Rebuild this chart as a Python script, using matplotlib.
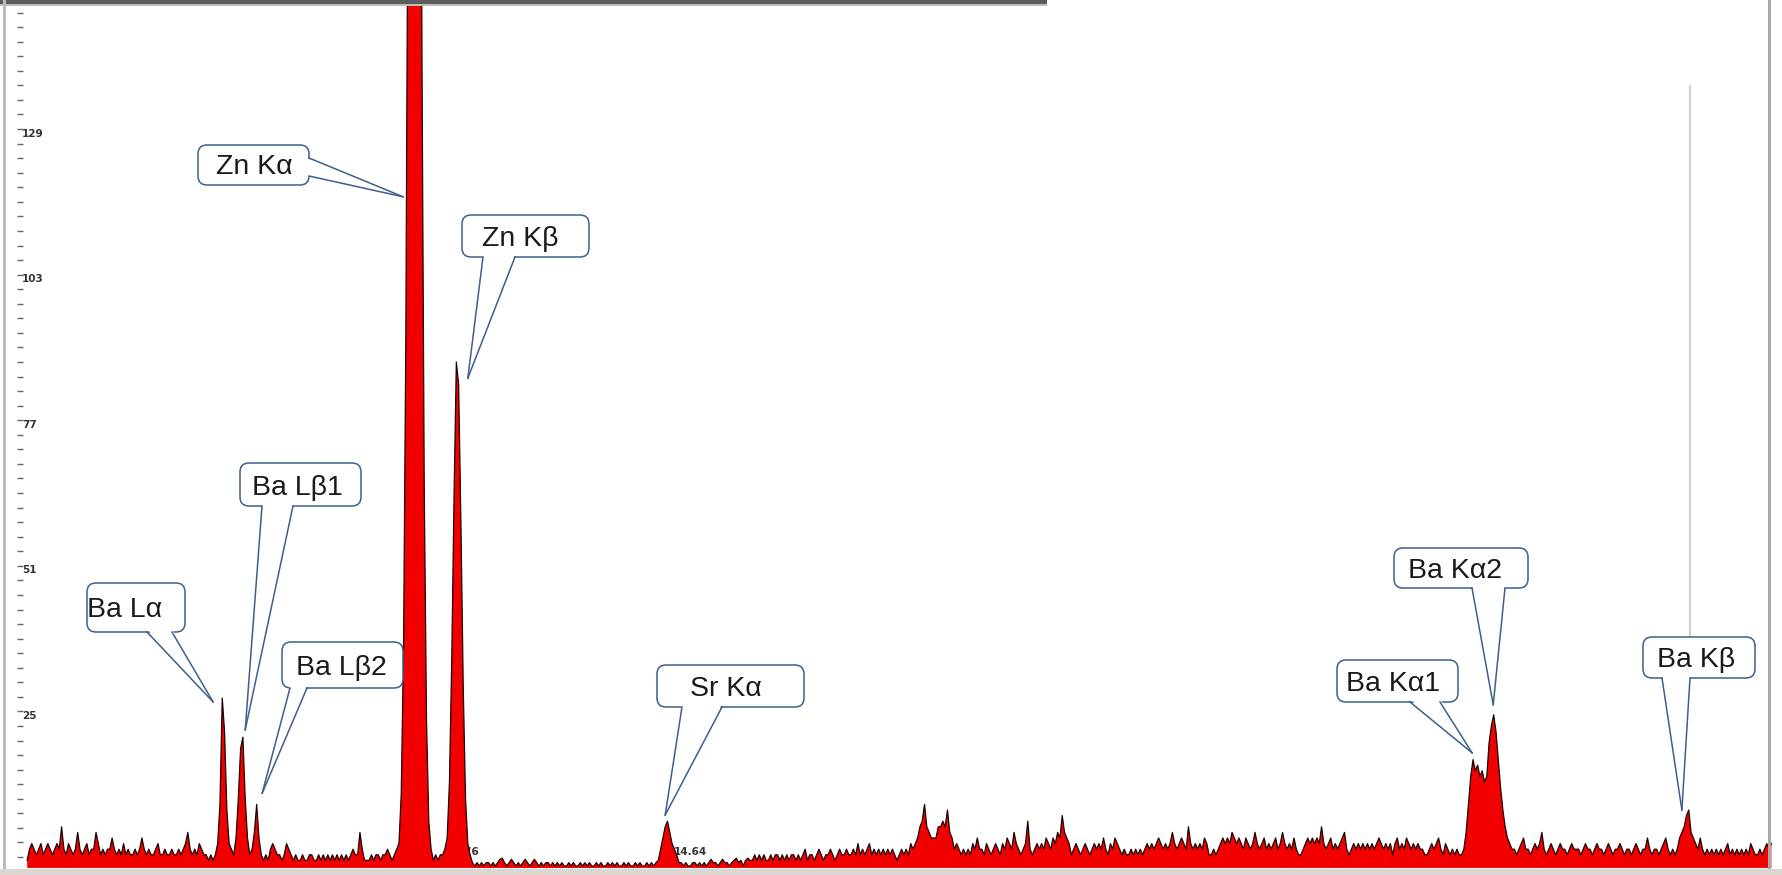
import numpy as np
import matplotlib
matplotlib.use("Agg")
import matplotlib.pyplot as plt
from matplotlib.patches import FancyBboxPatch, Polygon, Rectangle
from matplotlib.lines import Line2D

# ---------------- data ----------------
start_energy_kev = 0.20
channel_kev = 0.05

# counts per channel, one row per keV (first row starts at 0.20 keV)
counts_rows = [
    [1, 3, 4, 3, 2, 3, 4, 2, 3, 4, 3, 2, 3, 4, 3, 7],
    [3, 2, 4, 3, 2, 3, 6, 3, 2, 3, 4, 2, 3, 3, 6, 4, 2, 3, 2, 3],
    [3, 5, 3, 2, 3, 2, 4, 2, 3, 2, 2, 3, 2, 3, 5, 3, 2, 3, 2, 2],
    [3, 4, 2, 2, 3, 2, 2, 3, 2, 2, 3, 2, 3, 4, 6, 3, 2, 3, 2, 4],
    [3, 2, 2, 1, 2, 1, 2, 4, 11, 30, 24, 10, 4, 3, 2, 5, 12, 21, 23, 12],
    [5, 2, 3, 6, 11, 5, 2, 1, 2, 1, 3, 4, 3, 2, 2, 1, 2, 4, 3, 2],
    [1, 2, 1, 1, 2, 1, 1, 2, 2, 1, 1, 2, 1, 2, 1, 2, 1, 2, 1, 2],
    [1, 2, 1, 2, 1, 2, 3, 2, 2, 6, 3, 1, 1, 1, 2, 1, 2, 2, 1, 2],
    [2, 3, 2, 1, 2, 3, 4, 13, 39, 95, 187, 300, 393, 418, 362, 255, 146, 68, 26, 8],
    [3, 1, 2, 1, 2, 2, 3, 5, 15, 37, 66, 90, 86, 61, 32, 12, 4, 2, 0.6, 0],
    [0.6, 0, 0.6, 0, 0.6, 0.6, 0, 0.6, 0, 0.6, 1.2, 1.4, 0.6, 0, 0.6, 1.2, 0.6, 0, 0.6, 0],
    [0.6, 1.2, 0.6, 0, 0.6, 1.2, 0.6, 0, 0.6, 0, 0.6, 0.6, 0, 0.6, 0, 0.6, 0, 0.6, 0, 0],
    [0.6, 0, 0.6, 0, 0, 0.6, 0, 0.6, 0, 0.6, 0, 0, 0.6, 0, 0.6, 0, 0, 0.6, 0, 0.6],
    [0, 0.6, 0, 0, 0.6, 0, 0.6, 0, 0, 0.6, 0, 0.6, 0, 0, 0.6, 0, 0.6, 0, 0.6, 1],
    [3, 5, 7, 8, 6, 4, 3, 2, 0.6, 0.6, 0, 0.6, 0, 0, 0.6, 0.6, 0, 0.6, 0, 0.6],
    [0, 0.6, 1.2, 0.6, 0.6, 0, 0.6, 1.2, 0.6, 0.6, 0, 0.6, 1, 1.4, 0.6, 1, 0, 1, 1.4, 1],
    [1, 2, 1, 2, 1, 2, 1, 1, 2, 1, 2, 2, 1, 2, 1, 2, 1, 2, 2, 1],
    [2, 1, 2, 3, 1, 2, 2, 1, 2, 3, 2, 1, 2, 2, 3, 2, 1, 2, 3, 2],
    [2, 3, 2, 2, 3, 2, 4, 2, 3, 2, 3, 4, 2, 3, 2, 3, 2, 3, 2, 3],
    [2, 3, 2, 1, 2, 3, 2, 3, 2, 4, 3, 4, 5, 7, 8, 11, 7, 6, 5, 5],
    [5, 7, 7, 8, 7, 10, 6, 5, 3, 4, 3, 2, 3, 2, 3, 2, 4, 3, 5, 3],
    [3, 2, 4, 3, 2, 3, 4, 3, 2, 4, 3, 5, 4, 3, 6, 4, 3, 2, 3, 4],
    [8, 3, 2, 3, 4, 3, 4, 3, 5, 4, 3, 5, 4, 6, 5, 9, 6, 5, 4, 2],
    [3, 4, 3, 2, 3, 4, 3, 2, 3, 4, 3, 4, 3, 5, 3, 2, 4, 3, 5, 4],
    [3, 2, 3, 2, 2, 3, 2, 3, 2, 3, 2, 3, 4, 3, 4, 3, 4, 5, 4, 3],
    [4, 3, 4, 6, 4, 3, 4, 5, 4, 3, 7, 4, 3, 4, 3, 4, 3, 5, 4, 2],
    [2, 3, 2, 3, 4, 5, 4, 5, 4, 6, 5, 4, 5, 4, 3, 5, 4, 3, 4, 6],
    [4, 3, 4, 5, 3, 4, 3, 4, 5, 3, 4, 6, 4, 3, 4, 3, 5, 3, 2, 2],
    [3, 4, 5, 4, 5, 4, 5, 4, 7, 4, 3, 4, 5, 3, 4, 3, 4, 5, 6, 3],
    [2, 3, 4, 3, 4, 3, 4, 3, 4, 3, 4, 3, 4, 5, 4, 3, 4, 3, 4, 2],
    [4, 5, 3, 4, 3, 5, 4, 3, 4, 3, 4, 3, 3, 2, 2, 3, 4, 3, 4, 5],
    [3, 2, 4, 3, 2, 3, 2, 3, 2, 2, 3, 6, 11, 16, 19, 17, 18, 16, 17, 15],
    [16, 22, 25, 27, 24, 19, 14, 10, 7, 5, 4, 3, 3, 2, 3, 4, 5, 3, 3, 2],
    [3, 4, 3, 4, 6, 3, 2, 3, 4, 3, 2, 3, 4, 3, 3, 2, 3, 4, 3, 3],
    [3, 2, 3, 4, 3, 3, 2, 3, 4, 3, 3, 2, 3, 4, 3, 2, 3, 3, 4, 3],
    [2, 3, 3, 2, 3, 4, 3, 2, 3, 3, 5, 3, 2, 3, 3, 2, 3, 4, 5, 3],
    [2, 3, 2, 3, 5, 6, 7, 9, 10, 6, 5, 4, 3, 5, 3, 2, 3, 2, 3, 2],
    [3, 2, 3, 2, 3, 4, 2, 3, 2, 3, 2, 3, 2, 3, 2, 4, 3, 2, 2, 3],
    [2, 3, 4, 3, 4],
]

# peak annotations: label, and the point (keV, counts) the callout points at
peak_labels = ["Ba Lα", "Ba Lβ1", "Ba Lβ2", "Zn Kα", "Zn Kβ", "Sr Kα",
               "Ba Kα1", "Ba Kα2", "Ba Kβ"]
peak_tip_kev = [4.25, 4.95, 5.32, 8.39, 9.80, 14.10, 31.68, 32.14, 36.25]
peak_tip_counts = [29.3, 24.3, 13.0, 119.5, 87.1, 9.1, 20.2, 28.8, 10.0]

ytick_major = [25, 51, 77, 103, 129]
ytick_minor_step = 2.6
xtick_labels_visible = [9.76, 14.64]

# ---------------- layout (pixels of the 1782x875 image) ----------------
W, H, DPI = 1782, 875, 100
# callout boxes: (x0, y0, x1, y1), text centre, wedge base points
box_layout = {
    "Ba Lα":  ((87, 583, 185, 632), (125, 607), ((147, 632), (172, 632)), "bottom"),
    "Ba Lβ1": ((240, 463, 361, 506), (297, 485), ((262, 506), (293, 506)), "bottom"),
    "Ba Lβ2": ((282, 642, 403, 688), (341, 665), ((290, 688), (307, 688)), "bottom"),
    "Zn Kα":  ((198, 145, 309, 185), (254, 164), ((309, 158), (309, 176)), "right"),
    "Zn Kβ":  ((462, 215, 589, 257), (520, 236), ((483, 257), (515, 257)), "bottom"),
    "Sr Kα":  ((657, 665, 804, 707), (726, 686), ((682, 707), (722, 707)), "bottom"),
    "Ba Kα1": ((1337, 660, 1458, 702), (1393, 681), ((1410, 702), (1440, 702)), "bottom"),
    "Ba Kα2": ((1394, 548, 1528, 588), (1455, 568), ((1472, 588), (1505, 588)), "bottom"),
    "Ba Kβ":  ((1643, 637, 1755, 678), (1696, 657), ((1662, 678), (1690, 678)), "bottom"),
}

counts = np.concatenate([np.array(r, dtype=float) for r in counts_rows])
energy = start_energy_kev + channel_kev * np.arange(len(counts))

fig = plt.figure(figsize=(W / DPI, H / DPI), dpi=DPI, facecolor="white")

# data axes covering the whole image
ax = fig.add_axes([0, 0, 1, 1])
ax.set_facecolor("white")
px_per_kev = 45.9
x0_px = 18.0
ax.set_xlim(-x0_px / px_per_kev, (W - x0_px) / px_per_kev)
px_per_count = 5.6
y0_px = 866.0
ax.set_ylim(-(H - y0_px) / px_per_count, y0_px / px_per_count)

for s in ax.spines.values():
    s.set_visible(False)
ax.spines["left"].set_position(("axes", 20 / W))
ax.set_xticks([])
ax.set_yticks(ytick_major)
ax.set_yticks(np.arange(ytick_major[0] - 9 * ytick_minor_step,
                        ax.get_ylim()[1], ytick_minor_step), minor=True)
ax.tick_params(axis="y", which="both", direction="inout", length=4.5,
               width=1.0, color="#666666", labelleft=False)

# y tick labels (drawn slightly above their ticks, as in the reference)
for v in ytick_major:
    ax.text(22 / W, v + 1.8, str(v), transform=ax.get_yaxis_transform(),
            fontsize=7.5, fontweight="bold", color="#333333",
            ha="left", va="center", family="DejaVu Sans", zorder=1)

# x tick labels, which sit behind the spectrum
for e in xtick_labels_visible:
    ax.text(e, 2.5, f"{e:.2f}", fontsize=7.5, fontweight="bold",
            color="#333333", ha="center", va="center",
            family="DejaVu Sans", zorder=1)

ax.fill_between(energy, -0.35, counts, color="#f20000", lw=0, zorder=3)
ax.plot(energy, counts, color="#1a0000", lw=0.9, zorder=4)

# ---------------- overlay in pixel coordinates ----------------
ov = fig.add_axes([0, 0, 1, 1], facecolor="none")
ov.set_xlim(0, W)
ov.set_ylim(H, 0)
ov.axis("off")
ov.set_zorder(5)

# window frame pieces of the screenshot
ov.add_patch(Rectangle((0, 0), 1047, 4, color="#5c5c5c", lw=0, zorder=1))
ov.add_patch(Rectangle((0, 4), 1047, 2, color="#bdbdbd", lw=0, zorder=1))
ov.add_patch(Rectangle((3, 0), 3, H, color="#bcbcbc", lw=0, zorder=1))
ov.add_patch(Rectangle((1768, 0), 3, H, color="#a8a8a8", lw=0, zorder=1))
ov.add_patch(Rectangle((1689, 85), 2, 560, color="#d0d0d0", lw=0, zorder=1))
ov.add_patch(Rectangle((0, 869), W, 6, color="#ddd6d3", lw=0, zorder=1))

edge_col = "#3d5f8c"


def data_to_px(e, c):
    dx, dy = ax.transData.transform((e, c))
    return dx, H - dy


for lab, te, tc in zip(peak_labels, peak_tip_kev, peak_tip_counts):
    (bx0, by0, bx1, by1), (tx, ty), (b1, b2), side = box_layout[lab]
    tip = data_to_px(te, tc)
    box = FancyBboxPatch((bx0, by0), bx1 - bx0, by1 - by0,
                         boxstyle="round,pad=0,rounding_size=9",
                         facecolor="white", edgecolor=edge_col, lw=1.1, zorder=3)
    ov.add_patch(box)
    if side == "bottom":
        i1, i2 = (b1[0], b1[1] - 3), (b2[0], b2[1] - 3)
    else:
        i1, i2 = (b1[0] - 3, b1[1]), (b2[0] - 3, b2[1])
    ov.add_patch(Polygon([i1, i2, tip], closed=True, facecolor="white",
                         edgecolor="none", zorder=4))
    for b in (b1, b2):
        ov.add_line(Line2D([b[0], tip[0]], [b[1], tip[1]], color=edge_col,
                           lw=1.1, zorder=5))
    ov.text(tx, ty + 10, lab, fontsize=20.5, family="Liberation Sans",
            color="#1a1a1a", ha="center", va="baseline", zorder=6)

fig.savefig("out.png", dpi=DPI, facecolor="white")
